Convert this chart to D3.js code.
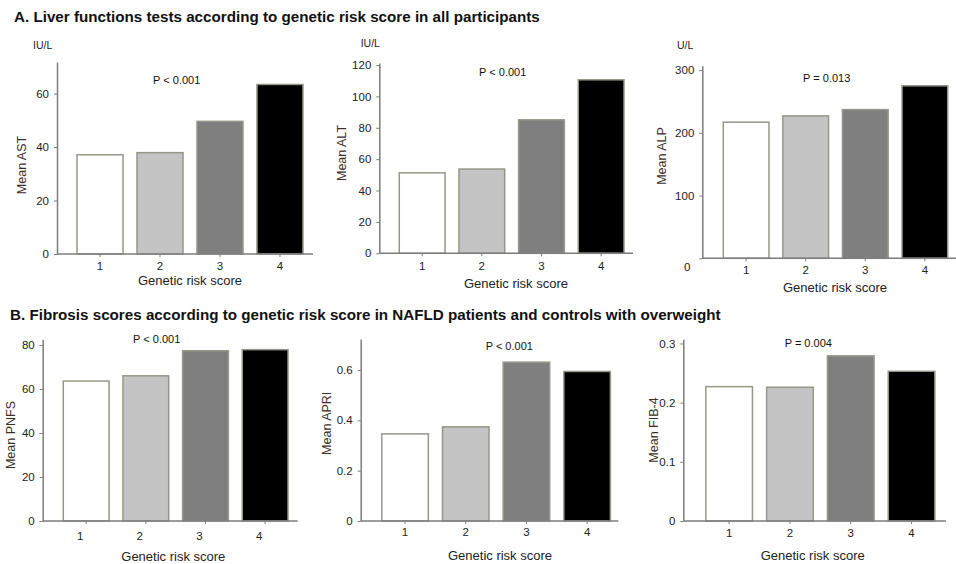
<!DOCTYPE html>
<html>
<head>
<meta charset="utf-8">
<script src="https://cdn.jsdelivr.net/npm/d3@7"></script>
<style>
  body { margin: 0; background: #fff; }
  svg { display: block; font-family: "Liberation Sans", Arial, sans-serif; }
</style>
</head>
<body>
<svg id="fig" width="956" height="564"></svg>
<script>
// data
const categories = ["1", "2", "3", "4"];
const astValues = [37.1, 37.9, 49.6, 63.4];
const altValues = [51.3, 53.7, 85.1, 110.6];
const alpValues = [217, 227, 237, 275];
const pnfsValues = [63.6, 66.0, 77.4, 77.9];
const apriValues = [0.346, 0.374, 0.631, 0.594];
const fib4Values = [0.227, 0.226, 0.279, 0.253];

const astTicks = [0, 20, 40, 60];
const altTicks = [0, 20, 40, 60, 80, 100, 120];
const alpTicks = [0, 100, 200, 300];
const pnfsTicks = [0, 20, 40, 60, 80];
const apriTicks = [0, 0.2, 0.4, 0.6];
const fib4Ticks = [0, 0.1, 0.2, 0.3];

const yLabels = ["Mean AST", "Mean ALT", "Mean ALP", "Mean PNFS", "Mean APRI", "Mean FIB-4"];
const pLabels = ["P < 0.001", "P < 0.001", "P = 0.013", "P < 0.001", "P < 0.001", "P = 0.004"];
const units = ["IU/L", "IU/L", "U/L", null, null, null];
const titles = [
  "A. Liver functions tests according to genetic risk score in all participants",
  "B. Fibrosis scores according to genetic risk score in NAFLD patients and controls with overweight"
];
const barFills = ["#ffffff", "#c4c4c4", "#7f7f7f", "#000000"];

// layout: one entry per panel (pixels)
const panels = [
  { vals: astValues, ticks: astTicks, yMax: 71.8, ax: 57, xEnd: 313, band: [70, 310], base: 254, top: 62,
    pad: 5, lab: [21.7, 165], p: [176.7, 80], unit: [33, 45], xl: [190, 280] },
  { vals: altValues, ticks: altTicks, yMax: 121.3, ax: 379.3, xEnd: 633, band: [392.3, 631], base: 253.3, top: 63,
    pad: 6, lab: [341.7, 153], p: [502.7, 72.3], unit: [360.7, 43.3], xl: [516, 283] },
  { vals: alpValues, ticks: alpTicks, yMax: 307, ax: 702.3, xEnd: 956, band: [716.3, 954.7], base: 258.3, top: 65.7,
    pad: 5, lab: [661.7, 156], p: [826.7, 77.7], unit: [677, 45], xl: [835, 287], zeroDrop: 9 },
  { vals: pnfsValues, ticks: pnfsTicks, yMax: 82.6, ax: 42.7, xEnd: 297.7, band: [56.3, 295], base: 521, top: 339.3,
    pad: 8, lab: [10.7, 435], p: [156.7, 339.3], xl: [173.3, 556], labShift: -6 },
  { vals: apriValues, ticks: apriTicks, yMax: 0.723, ax: 360.7, xEnd: 618.3, band: [374.7, 617.5], base: 521, top: 339,
    pad: 4, lab: [326.7, 423.3], p: [509.3, 346], xl: [500, 555] },
  { vals: fib4Values, ticks: fib4Ticks, yMax: 0.307, ax: 683.3, xEnd: 946, band: [698.7, 942], base: 521, top: 339.3,
    pad: 4.5, lab: [653.3, 430], p: [808.3, 342.7], xl: [812.7, 555] }
];

const svg = d3.select("#fig");

// section titles
svg.selectAll("text.title")
  .data(titles)
  .enter()
  .append("text")
  .attr("class", "title")
  .attr("x", (d, i) => i === 0 ? 14 : 10)
  .attr("y", (d, i) => i === 0 ? 22 : 319.5)
  .style("font-size", "15.2px")
  .style("font-weight", "bold")
  .style("fill", "#111")
  .text(d => d);

const axisColor = "#7c7c7c";

panels.forEach((pn, i) => {
  const g = svg.append("g");

  const x = d3.scaleBand()
    .domain(categories)
    .range(pn.band)
    .paddingInner(0.233)
    .paddingOuter(0.117);

  const y = d3.scaleLinear()
    .domain([0, pn.yMax])
    .range([pn.base, pn.top]);

  // bars
  g.selectAll("rect")
    .data(pn.vals)
    .enter()
    .append("rect")
    .attr("x", (d, j) => x(categories[j]))
    .attr("width", x.bandwidth())
    .attr("y", d => y(d))
    .attr("height", d => pn.base - y(d))
    .style("fill", (d, j) => barFills[j])
    .style("stroke", "#979789")
    .style("stroke-width", 1.5);

  // y axis
  const yAxis = d3.axisLeft(y)
    .tickValues(pn.ticks)
    .tickFormat(d => d3.format("")(+d.toFixed(2)))
    .tickSize(3)
    .tickSizeOuter(0)
    .tickPadding(5);
  const ya = g.append("g")
    .attr("transform", `translate(${pn.ax},0)`)
    .call(yAxis);

  if (pn.zeroDrop) {
    ya.selectAll(".tick")
      .filter(d => d === 0)
      .select("text")
      .attr("y", pn.zeroDrop)
      .attr("x", -12);
  }

  // x axis
  const xAxis = d3.axisBottom(x)
    .tickSize(3)
    .tickSizeOuter(0)
    .tickPadding(pn.pad);
  const xa = g.append("g")
    .attr("transform", `translate(0,${pn.base})`)
    .call(xAxis);
  xa.select(".domain").remove();
  xa.append("line")
    .attr("x1", pn.ax)
    .attr("x2", pn.xEnd)
    .attr("stroke", axisColor)
    .attr("stroke-width", 1.5);
  if (pn.labShift) {
    xa.selectAll(".tick text").attr("dx", pn.labShift);
  }

  [ya, xa].forEach(a => {
    a.selectAll(".domain").attr("stroke", axisColor).attr("stroke-width", 1.5);
    a.selectAll(".tick line").attr("stroke", axisColor);
    a.selectAll(".tick text")
      .style("font-size", "11.5px")
      .style("font-family", "Liberation Sans, Arial, sans-serif")
      .style("fill", "#222");
  });

  // y-axis title
  g.append("text")
    .attr("transform", `translate(${pn.lab[0] + 4.5},${pn.lab[1]}) rotate(-90)`)
    .attr("text-anchor", "middle")
    .style("font-size", "12.5px")
    .style("fill", "#3a2e27")
    .text(yLabels[i]);

  // x-axis title
  g.append("text")
    .attr("x", pn.xl[0])
    .attr("y", pn.xl[1] + 4.5)
    .attr("text-anchor", "middle")
    .style("font-size", "13px")
    .style("fill", "#222")
    .text("Genetic risk score");

  // p value
  g.append("text")
    .attr("x", pn.p[0])
    .attr("y", pn.p[1] + 4)
    .attr("text-anchor", "middle")
    .style("font-size", "11px")
    .style("fill", "#111")
    .text(pLabels[i]);

  // unit
  if (units[i]) {
    g.append("text")
      .attr("x", pn.unit[0])
      .attr("y", pn.unit[1] + 4)
      .style("font-size", "10.5px")
      .style("fill", "#222")
      .text(units[i]);
  }
});
</script>
</body>
</html>
